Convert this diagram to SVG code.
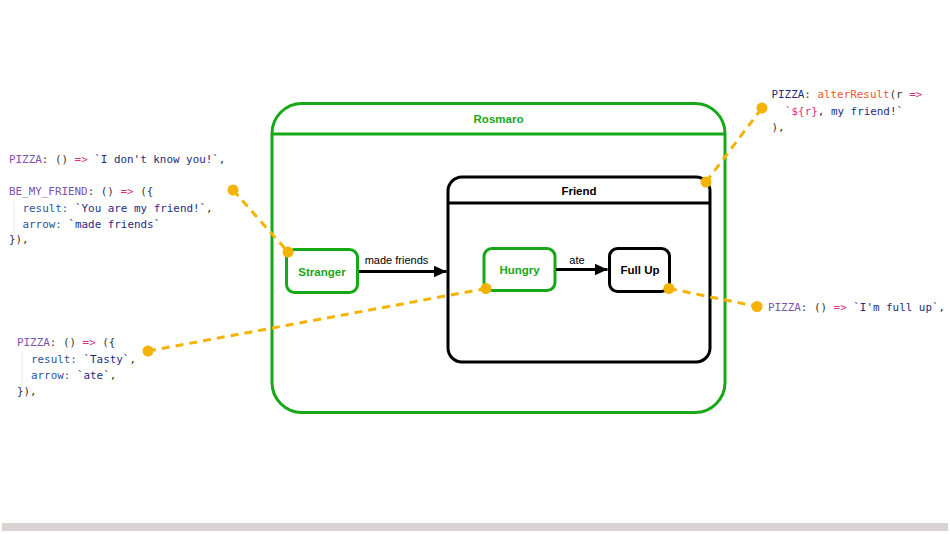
<svg xmlns="http://www.w3.org/2000/svg" width="950" height="534" viewBox="0 0 950 534">
<style>
.code{font-family:"DejaVu Sans Mono","Liberation Mono",monospace;font-size:10.9px;fill:#333;white-space:pre}
.k{fill:#7b52a8}.ar{fill:#d8307f}.s{fill:#1d2c7e}.p{fill:#2f5299}.f{fill:#f0552c}
.lbl{font-family:"Liberation Sans",Arial,sans-serif;font-weight:bold;font-size:11.5px;text-anchor:middle}
.g{fill:#16a816}.b{fill:#000}
.edge{font-family:"Liberation Sans",Arial,sans-serif;font-size:11px;text-anchor:middle;fill:#000}
.gbox{fill:none;stroke:#16a816;stroke-width:3}
.bbox{fill:none;stroke:#000;stroke-width:3}
.dash{stroke:#f5b301;stroke-width:3;stroke-dasharray:8 6;fill:none}
.dot{fill:#f5b301}
.guide{stroke:#e6e6e6;stroke-width:1}
</style>
<defs>
<marker id="ah" markerWidth="13" markerHeight="12" refX="13" refY="6" orient="auto" markerUnits="userSpaceOnUse">
<path d="M0,0 L13,6 L0,12 Z" fill="#000"/>
</marker>
</defs>
<rect width="950" height="534" fill="#fff"/>
<rect x="2" y="523" width="946" height="8" fill="#d9d4d3"/>

<g id="rosmaro">
<rect class="gbox" x="272" y="103.5" width="453" height="309" rx="30" ry="30"/>
<line x1="272" y1="134" x2="725" y2="134" stroke="#16a816" stroke-width="3"/>
<text class="lbl g" x="498.5" y="123">Rosmaro</text>
</g>
<g id="friend">
<rect class="bbox" x="448" y="177" width="262" height="185" rx="14" ry="14"/>
<line x1="448" y1="203" x2="710" y2="203" stroke="#000" stroke-width="3"/>
<text class="lbl b" x="579" y="194.5">Friend</text>
</g>
<g id="stranger">
<rect class="gbox" x="286.5" y="249.5" width="71" height="43" rx="8" ry="8"/>
<text class="lbl g" x="322" y="276">Stranger</text>
</g>
<g id="hungry">
<rect class="gbox" x="484" y="248.5" width="71" height="42" rx="8" ry="8"/>
<text class="lbl g" x="519.5" y="273.5">Hungry</text>
</g>
<g id="fullup">
<rect class="bbox" x="609.5" y="248.5" width="60" height="43" rx="8" ry="8"/>
<text class="lbl b" x="640" y="273.5">Full Up</text>
</g>

<g id="connectors">
<line x1="359" y1="271.5" x2="446.5" y2="271.5" stroke="#000" stroke-width="3" marker-end="url(#ah)"/>
<text class="edge" x="396.5" y="263.5">made friends</text>
<line x1="556" y1="269.5" x2="607.5" y2="269.5" stroke="#000" stroke-width="3" marker-end="url(#ah)"/>
<text class="edge" x="577" y="263.5">ate</text>
</g>

<g id="annotations">
<line class="dash" x1="233" y1="190" x2="288" y2="252"/>
<circle class="dot" cx="233" cy="190" r="5.5"/>
<circle class="dot" cx="288" cy="252" r="5.5"/>
<line class="dash" x1="148" y1="351" x2="486" y2="288.5"/>
<circle class="dot" cx="148" cy="351" r="5.5"/>
<circle class="dot" cx="486" cy="288.5" r="5.5"/>
<line class="dash" x1="706" y1="182" x2="762" y2="108"/>
<circle class="dot" cx="706" cy="182" r="5.5"/>
<circle class="dot" cx="762" cy="108" r="5.5"/>
<line class="dash" x1="669" y1="288.5" x2="757" y2="306.5"/>
<circle class="dot" cx="669" cy="288.5" r="5.5"/>
<circle class="dot" cx="757" cy="306.5" r="5.5"/>
</g>

<g id="code-left">
<line class="guide" x1="14" y1="201" x2="14" y2="233"/>
<text class="code" x="9" y="163"><tspan class="k">PIZZA</tspan>: () <tspan class="ar">=&gt;</tspan> <tspan class="s">`I don't know you!`</tspan>,</text>
<text class="code" x="9" y="195"><tspan class="k">BE_MY_FRIEND</tspan>: () <tspan class="ar">=&gt;</tspan> ({</text>
<text class="code" x="22.5" y="211.5"><tspan class="p">result:</tspan> <tspan class="s">`You are my friend!`</tspan>,</text>
<text class="code" x="22.5" y="227.5"><tspan class="p">arrow:</tspan> <tspan class="s">`made friends`</tspan></text>
<text class="code" x="9" y="243">}),</text>
</g>
<g id="code-bottom-left">
<line class="guide" x1="22" y1="352" x2="22" y2="384"/>
<text class="code" x="17" y="346"><tspan class="k">PIZZA</tspan>: () <tspan class="ar">=&gt;</tspan> ({</text>
<text class="code" x="31" y="362.5"><tspan class="p">result:</tspan> <tspan class="s">`Tasty`</tspan>,</text>
<text class="code" x="31" y="379"><tspan class="p">arrow:</tspan> <tspan class="s">`ate`</tspan>,</text>
<text class="code" x="17" y="395">}),</text>
</g>
<g id="code-top-right">
<text class="code" x="771.5" y="98"><tspan class="s">PIZZA</tspan>: <tspan class="f">alterResult</tspan>(r <tspan class="ar">=&gt;</tspan></text>
<text class="code" x="785" y="114.5"><tspan class="ar">`${r}</tspan><tspan class="s">, my friend!`</tspan></text>
<text class="code" x="771.5" y="131">),</text>
</g>
<g id="code-right">
<text class="code" x="768" y="311"><tspan class="k">PIZZA</tspan>: () <tspan class="ar">=&gt;</tspan> <tspan class="s">`I'm full up`</tspan>,</text>
</g>
</svg>
